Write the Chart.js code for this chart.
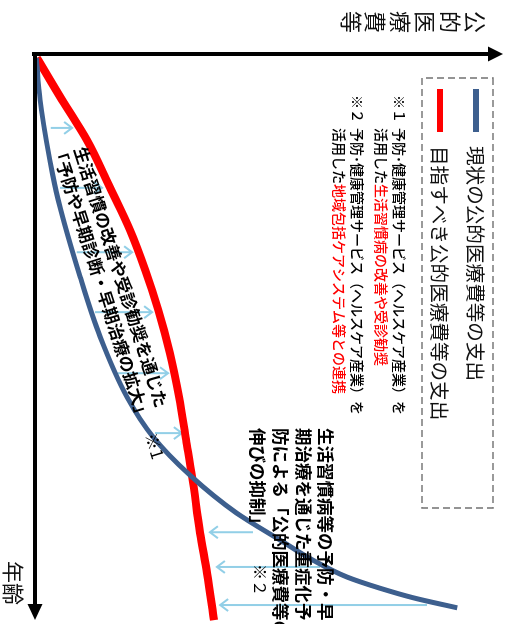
<!DOCTYPE html>
<html lang="ja">
<head>
<meta charset="utf-8">
<title>公的医療費等と年齢</title>
<script src="https://cdn.jsdelivr.net/npm/chart.js@4.4.1/dist/chart.umd.min.js"></script>
<style>
  html, body { margin: 0; padding: 0; background: #fff; overflow: hidden; }
  /* the slide is drawn upright (age →, cost ↑) and then turned a quarter clockwise */
  #wrap {
    position: absolute; left: 0; top: 0; width: 624px; height: 511px;
    transform-origin: 0 0; transform: translate(511px, 0) rotate(90deg);
  }
</style>
</head>
<body>
<div id="wrap"><canvas id="chart" width="624" height="511"></canvas></div>
<script>
// age on x (0-100), public medical cost on y (0-100), both in arbitrary units
const blueAge  = [0.7, 8.2, 19.0, 26.1, 39.8, 50.5, 61.3, 68.4, 75.2, 82.0, 86.8, 90.4, 93.4, 95.4, 97.1, 98.9];
const blueCost = [0.3, 1.1, 3.2, 5.0, 9.7, 14.0, 19.8, 25.4, 33.3, 43.4, 52.7, 59.8, 67.1, 74.2, 81.3, 90.8];

const redAge  = [0.7, 8.2, 15.4, 23.8, 31.4, 38.6, 45.7, 53.4, 61.3, 68.9, 75.5, 85.5, 92.7, 101.1];
const redCost = [0.4, 5.8, 11.2, 16.1, 20.4, 23.7, 26.5, 29.0, 31.0, 32.5, 33.8, 35.5, 37.0, 38.5];

// light blue arrows: at an age, from the current curve towards the target curve
const arrowAge  = [13.2, 23.9, 35.4, 46.1, 57.0, 67.7, 85.4, 91.6, 98.4];
const arrowFrom = [3.4, 5.4, 9.0, 12.9, 17.8, 25.8, 46.9, 61.3, 84.3];
const arrowTo   = [8.0, 14.4, 20.9, 25.2, 28.6, 31.6, 37.6, 39.1, 39.8];

const seriesLabels = ["現状の公的医療費等の支出", "目指すべき公的医療費等の支出"];
const axisCostLabel = "公的医療費等";
const axisAgeLabel = "年齢";

const notes = [
  { mark: "※１", line1: "予防･健康管理サービス（ヘルスケア産業）を", lead: "活用した", red: "生活習慣病の改善や受診勧奨" },
  { mark: "※２", line1: "予防･健康管理サービス（ヘルスケア産業）を", lead: "活用した", red: "地域包括ケアシステム等との連携" },
];
const curveText = ["生活習慣の改善や受診勧奨を通じた", "「予防や早期診断・早期治療の拡大」"];
const blockText = ["生活習慣病等の予防・早", "期治療を通じた重症化予", "防による「公的医療費等の", "伸びの抑制」"];

const BLUE = "#3d5f8e";
const RED = "#ff0000";
const ARROW = "#92cfe7";
const FONT = '"Noto Sans CJK JP", "Noto Sans", sans-serif';

function toPoints(xs, ys) {
  return xs.map((v, i) => ({ x: v, y: ys[i] }));
}

const backgroundPlugin = {
  id: "background",
  beforeDraw(chart) {
    const { ctx, width, height } = chart;
    ctx.save();
    ctx.fillStyle = "#fff";
    ctx.fillRect(0, 0, width, height);
    ctx.restore();
  },
};

const arrowPlugin = {
  id: "arrows",
  beforeDatasetsDraw(chart) {
    const { ctx, scales: { x, y } } = chart;
    ctx.save();
    ctx.strokeStyle = ARROW;
    ctx.lineWidth = 2;
    arrowAge.forEach((age, i) => {
      const px = x.getPixelForValue(age);
      const y0 = y.getPixelForValue(arrowFrom[i]);
      const y1 = y.getPixelForValue(arrowTo[i]);
      const dir = y1 < y0 ? 1 : -1; // head points up (cost rising) or down
      ctx.beginPath();
      ctx.moveTo(px, y0);
      ctx.lineTo(px, y1);
      ctx.moveTo(px - 6, y1 + dir * 8);
      ctx.lineTo(px, y1);
      ctx.lineTo(px + 6, y1 + dir * 8);
      ctx.stroke();
    });
    ctx.restore();
  },
};

function text(ctx, str, x, y, opts = {}) {
  ctx.save();
  ctx.font = opts.font || `17px ${FONT}`;
  ctx.fillStyle = opts.color || "#000";
  ctx.textAlign = opts.align || "left";
  ctx.textBaseline = "middle";
  ctx.translate(x, y);
  if (opts.angle) ctx.rotate(opts.angle);
  ctx.fillText(str, 0, 0);
  const w = ctx.measureText(str).width;
  ctx.restore();
  return w;
}

const decorPlugin = {
  id: "decor",
  afterDatasetsDraw(chart) {
    const { ctx, chartArea: a } = chart;

    // axes with solid arrow heads
    ctx.save();
    ctx.strokeStyle = "#000";
    ctx.fillStyle = "#000";
    ctx.lineWidth = 4;
    ctx.beginPath();
    ctx.moveTo(a.left, a.bottom + 3);
    ctx.lineTo(a.left, a.top + 10);
    ctx.moveTo(a.left, a.bottom);
    ctx.lineTo(a.right - 6, a.bottom);
    ctx.stroke();
    ctx.beginPath();
    ctx.moveTo(a.left, a.top - 3);
    ctx.lineTo(a.left - 7.5, a.top + 12);
    ctx.lineTo(a.left + 7.5, a.top + 12);
    ctx.closePath();
    ctx.fill();
    ctx.beginPath();
    ctx.moveTo(a.right + 6, a.bottom);
    ctx.lineTo(a.right - 10, a.bottom - 7.5);
    ctx.lineTo(a.right - 10, a.bottom + 7.5);
    ctx.closePath();
    ctx.fill();
    ctx.restore();

    // axis titles
    const big = `22px ${FONT}`;
    [...axisCostLabel].forEach((ch, i) => {
      text(ctx, ch, 22, 36 + i * 24.8, { font: big, align: "center", color: "#111" });
    });
    text(ctx, axisAgeLabel, 561, 498, { font: big, color: "#111" });

    // legend box
    ctx.save();
    ctx.strokeStyle = "#7a7a7a";
    ctx.lineWidth = 1.6;
    ctx.setLineDash([7, 4]);
    ctx.strokeRect(78, 18, 430, 71);
    ctx.restore();
    chart.data.datasets.forEach((ds, i) => {
      const ly = i === 0 ? 35 : 71;
      ctx.save();
      ctx.strokeStyle = ds.borderColor;
      ctx.lineWidth = 6;
      ctx.beginPath();
      ctx.moveTo(89, ly);
      ctx.lineTo(132, ly);
      ctx.stroke();
      ctx.restore();
      text(ctx, ds.label, 146, ly + 1, { font: `19.6px ${FONT}`, color: "#111" });
    });

    // footnotes
    const small = `500 14px ${FONT}`;
    notes.forEach((n, i) => {
      const y1 = i === 0 ? 112 : 154;
      const y2 = y1 + 18;
      text(ctx, n.mark, 95, y1, { font: small });
      text(ctx, n.line1, 128, y1, { font: small });
      const w = text(ctx, n.lead, 128, y2, { font: small });
      text(ctx, n.red, 128 + w, y2, { font: small, color: RED });
    });

    // text along the curves
    const bold = `bold 17px ${FONT}`;
    const ang = -17.6 * Math.PI / 180;
    text(ctx, curveText[0], 277, 390, { font: bold, align: "center", angle: ang });
    text(ctx, curveText[1], 283, 410, { font: bold, align: "center", angle: ang });
    text(ctx, "※1", 446, 356.5, { font: `17px ${FONT}`, align: "center", angle: ang });

    // explanation block at the right
    blockText.forEach((line, i) => {
      text(ctx, line, 428, 185 + i * 22.7, { font: `bold 17.5px ${FONT}` });
    });
    text(ctx, "※２", 564, 251, { font: `16px ${FONT}` });
  },
};

new Chart(document.getElementById("chart"), {
  type: "scatter",
  data: {
    datasets: [
      {
        label: seriesLabels[0],
        data: toPoints(blueAge, blueCost),
        showLine: true,
        borderColor: BLUE,
        borderWidth: 5,
        pointRadius: 0,
        cubicInterpolationMode: "monotone",
        clip: false,
      },
      {
        label: seriesLabels[1],
        data: toPoints(redAge, redCost),
        showLine: true,
        borderColor: RED,
        borderWidth: 8,
        pointRadius: 0,
        cubicInterpolationMode: "monotone",
        clip: false,
      },
    ],
  },
  options: {
    responsive: false,
    animation: false,
    events: [],
    layout: { padding: { left: 54, right: 10, top: 11, bottom: 35 } },
    scales: {
      x: { type: "linear", min: 0, max: 100, display: false },
      y: { type: "linear", min: 0, max: 100, display: false },
    },
    plugins: { legend: { display: false }, tooltip: { enabled: false } },
  },
  plugins: [backgroundPlugin, arrowPlugin, decorPlugin],
});
</script>
</body>
</html>
